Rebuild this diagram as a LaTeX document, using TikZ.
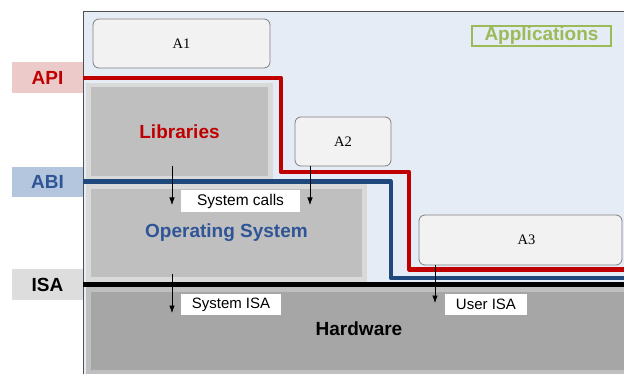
\documentclass[tikz,border=0pt]{standalone}
\usepackage{fontspec}
\setmainfont{Liberation Sans}
\newfontfamily\appfont{Liberation Serif}
\usetikzlibrary{arrows.meta}

\definecolor{appbg}{HTML}{E6ECF6}
\definecolor{areaborder}{HTML}{505050}
\definecolor{framegray}{HTML}{7F7F7F}
\definecolor{appbox}{HTML}{F2F2F2}
\definecolor{apired}{HTML}{C00000}
\definecolor{apifill}{HTML}{EDCACA}
\definecolor{abiblue}{HTML}{1F497D}
\definecolor{abitext}{HTML}{2F5597}
\definecolor{abifill}{HTML}{B4C6DE}
\definecolor{isafill}{HTML}{DDDDDD}
\definecolor{bandlight}{HTML}{D9D9D9}
\definecolor{bandmid}{HTML}{BFBFBF}
\definecolor{banddark}{HTML}{A6A6A6}
\definecolor{appgreen}{HTML}{9BBB59}

\newcommand{\biglabel}{\fontsize{19}{19}\selectfont\bfseries}
\newcommand{\smalllabel}{\fontsize{15}{15}\selectfont}

\begin{document}
\begin{tikzpicture}[x=1pt,y=-1pt,
  every node/.style={inner sep=0pt,outer sep=0pt},
  band/.style={draw=none,rectangle},
  appnode/.style={draw=framegray,fill=appbox,rounded corners=6pt,line width=0.8pt,
    font=\appfont\fontsize{14.5}{14.5}\selectfont},
  iface/.style={rectangle,minimum width=71,minimum height=31,font=\biglabel},
  tag/.style={fill=white,font=\smalllabel},
  ifline/.style={line width=4.2pt,line join=round,line cap=butt},
  callarrow/.style={line width=0.7pt,-{Latex[length=7.5pt,width=5.5pt]}}]

\useasboundingbox (0,0) rectangle (624,374);

% application area
\fill[appbg] (83,11) rectangle (624,374);
\draw[areaborder,line width=0.9pt] (83,374) -- (83,11) -- (624,11);

\node[draw=appgreen,line width=1.2pt,text=appgreen,font=\biglabel,
  minimum width=139,minimum height=20] (apps) at (541.5,36) {Applications};

% software layers
\node[band,fill=bandlight,minimum width=187,minimum height=98] (libframe) at (179.5,132) {};
\node[band,fill=bandmid,minimum width=177,minimum height=89,text=apired,font=\biglabel] (lib) at (179.5,132) {Libraries};

\node[band,fill=bandlight,minimum width=281,minimum height=98] (osframe) at (226.5,233) {};
\node[band,fill=bandmid,minimum width=271,minimum height=88] (os) at (226.5,233) {};
\node[text=abitext,font=\biglabel] (ostext) at (226.5,232.5) {Operating System};

\node[band,fill=bandmid,minimum width=540,minimum height=87] (hwframe) at (356,330.5) {};
\node[band,fill=banddark,minimum width=534,minimum height=78] (hw) at (358,331) {};
\node[font=\biglabel] (hwtext) at (359,329) {Hardware};

% applications
\node[appnode,minimum width=177,minimum height=49] (a1) at (181.5,43.5) {A1};
\node[appnode,minimum width=96,minimum height=49] (a2) at (343,141.5) {A2};
\node[appnode,minimum width=203,minimum height=50] (a3) at (520.5,240) {\hspace*{12pt}A3};

% interface labels
\node[iface,fill=apifill,text=apired] (api) at (47.5,77.5) {API};
\node[iface,fill=abifill,text=abitext,minimum height=30] (abi) at (47.5,182) {ABI};
\node[iface,fill=isafill] (isa) at (47.5,284.5) {ISA};

% interface boundaries
\coordinate (apiend) at (624,269.5);
\coordinate (abiend) at (624,278);
\coordinate (isaend) at (624,284.5);
\draw[ifline,apired] (api.east |- 0,78) -- (281,78) -- (281,172) -- (409,172)
  -- (409,269.5) -- (apiend);
\draw[ifline,abiblue] (abi.east |- 0,181.5) -- (391,181.5) -- (391,278) -- (abiend);
\draw[ifline,black] (isa.east |- 0,284.5) -- (isaend);

% call tags
\node[tag,minimum width=119,minimum height=22,font=\fontsize{15.5}{15.5}\selectfont] (calls) at (240.5,201) {System calls};
\node[tag,minimum width=100,minimum height=21] (sysisa) at (231,304.5) {System ISA};
\node[tag,minimum width=82,minimum height=21] (userisa) at (486,304.5) {User ISA};

% calls across the boundaries
\coordinate (libcall) at (172,166);
\coordinate (libhit) at (172,205);
\coordinate (a2hit) at (310,205);
\coordinate (oscall) at (172,274);
\coordinate (oshit) at (172,313);
\coordinate (a3hit) at (435,303);
\draw[callarrow] (libcall) -- (libhit);
\draw[callarrow] (a2.south -| a2hit) -- (a2hit);
\draw[callarrow] (oscall) -- (oshit);
\draw[callarrow] (a3.south -| a3hit) -- (a3hit);

\end{tikzpicture}
\end{document}
